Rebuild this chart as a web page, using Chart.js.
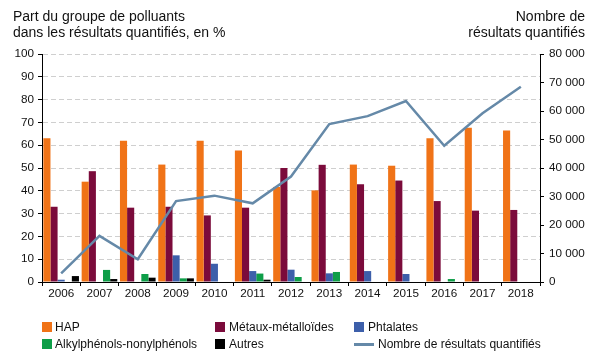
<!DOCTYPE html>
<html lang="fr">
<head>
<meta charset="UTF-8">
<title>Part des groupes de polluants</title>
<script src="https://cdn.jsdelivr.net/npm/chart.js@4"></script>
<style>
  body { margin: 0; background: #fff; font-family: 'Liberation Sans', Arial, sans-serif; }
  #wrap { position: relative; width: 616px; height: 364px; }
  canvas { position: absolute; left: 0; top: 0; }
  .title { position: absolute; font-size: 14px; line-height: 16px; color: #111; white-space: nowrap; }
  .legend { position: absolute; font-size: 12px; line-height: 14px; color: #111; white-space: nowrap; }
  .sw { position: absolute; width: 10px; height: 10px; }
  .ln { position: absolute; width: 20px; height: 3px; background: #6589a8; }
</style>
</head>
<body>
<div id="wrap">
  <canvas id="chart" width="616" height="364"></canvas>
  <div class="title" style="left:13px; top:8px;">Part du groupe de polluants<br>dans les résultats quantifiés, en %</div>
  <div class="title" style="right:31px; top:8px; text-align:right;">Nombre de<br>résultats quantifiés</div>

  <!-- legend -->
  <div class="sw" style="left:42px; top:322px; background:#f07317;"></div>
  <div class="legend" style="left:55px; top:320px;">HAP</div>
  <div class="sw" style="left:215px; top:322px; background:#7b0b3b;"></div>
  <div class="legend" style="left:229px; top:320px;">Métaux-métalloïdes</div>
  <div class="sw" style="left:354px; top:322px; background:#3d5faa;"></div>
  <div class="legend" style="left:368px; top:320px;">Phtalates</div>

  <div class="sw" style="left:42px; top:339px; background:#0e9e48;"></div>
  <div class="legend" style="left:55px; top:337px;">Alkylphénols-nonylphénols</div>
  <div class="sw" style="left:215px; top:339px; background:#000;"></div>
  <div class="legend" style="left:229px; top:337px;">Autres</div>
  <div class="ln" style="left:354px; top:343px;"></div>
  <div class="legend" style="left:378px; top:337px;">Nombre de résultats quantifiés</div>
</div>

<script>
  // data
  const years = ["2006", "2007", "2008", "2009", "2010", "2011", "2012", "2013", "2014", "2015", "2016", "2017", "2018"];
  const hap = [63, 44, 62, 51.5, 62, 57.7, 41.7, 40.2, 51.5, 51, 63, 67.7, 66.5];
  const metaux = [33, 48.6, 32.6, 33, 29.2, 32.6, 50, 51.4, 42.9, 44.5, 35.5, 31.3, 31.6];
  const phtalates = [1, 0, 0, 11.7, 8, 4.8, 5.4, 3.8, 4.8, 3.5, 0, 0, 0];
  const alkyl = [0, 5.3, 3.5, 1.6, 0, 3.7, 2.2, 4.4, 0, 0, 1.3, 0, 0];
  const autres = [2.6, 1.3, 1.9, 1.6, 0, 1, 0, 0, 0, 0, 0, 0, 0];
  const nbResultats = [3000, 16200, 8000, 28400, 30300, 27600, 37000, 55400, 58200, 63500, 47800, 59200, 68500];

  const tickFont = { family: "'Liberation Sans', Arial, sans-serif", size: 11.7 };

  function bar(label, data, color) {
    return {
      type: "bar",
      label: label,
      data: data,
      backgroundColor: color,
      borderWidth: 0,
      yAxisID: "y",
      categoryPercentage: 0.93,
      barPercentage: 1.0,
      order: 1
    };
  }

  new Chart(document.getElementById("chart"), {
    type: "bar",
    data: {
      labels: years,
      datasets: [
        {
          type: "line",
          label: "Nombre de résultats quantifiés",
          data: nbResultats,
          borderColor: "#6589a8",
          borderWidth: 2.5,
          pointRadius: 0,
          tension: 0,
          fill: false,
          yAxisID: "y1",
          order: 0
        },
        bar("HAP", hap, "#f07317"),
        bar("Métaux-métalloïdes", metaux, "#7b0b3b"),
        bar("Phtalates", phtalates, "#3d5faa"),
        bar("Alkylphénols-nonylphénols", alkyl, "#0e9e48"),
        bar("Autres", autres, "#000000")
      ]
    },
    options: {
      responsive: false,
      animation: false,
      layout: { padding: { top: 54, bottom: 62, left: 0, right: 0 } },
      plugins: { legend: { display: false }, tooltip: { enabled: false } },
      scales: {
        x: {
          offset: true,
          grid: { offset: true, drawOnChartArea: false, color: "#000", tickLength: 4 },
          border: { color: "#000" },
          ticks: { color: "#111", font: tickFont, padding: 1, maxRotation: 0 },
          afterFit: (s) => { s.height = 20; }
        },
        y: {
          position: "left",
          min: 0, max: 100,
          ticks: { stepSize: 10, color: "#111", font: tickFont, padding: 4 },
          grid: { color: "#cfcfcf", tickColor: "#000", tickLength: 4, tickBorderDash: [], lineWidth: 1 },
          border: { color: "#000", dash: [5, 3] },
          afterFit: (s) => { s.width = 42; }
        },
        y1: {
          position: "right",
          min: 0, max: 80000,
          ticks: {
            stepSize: 10000, color: "#111", font: tickFont, padding: 5,
            callback: (v) => v === 0 ? "0" : (v / 1000) + " 000"
          },
          grid: { drawOnChartArea: false, color: "#000", tickLength: 4 },
          border: { color: "#000" },
          afterFit: (s) => { s.width = 76; }
        }
      }
    }
  });
</script>
</body>
</html>
